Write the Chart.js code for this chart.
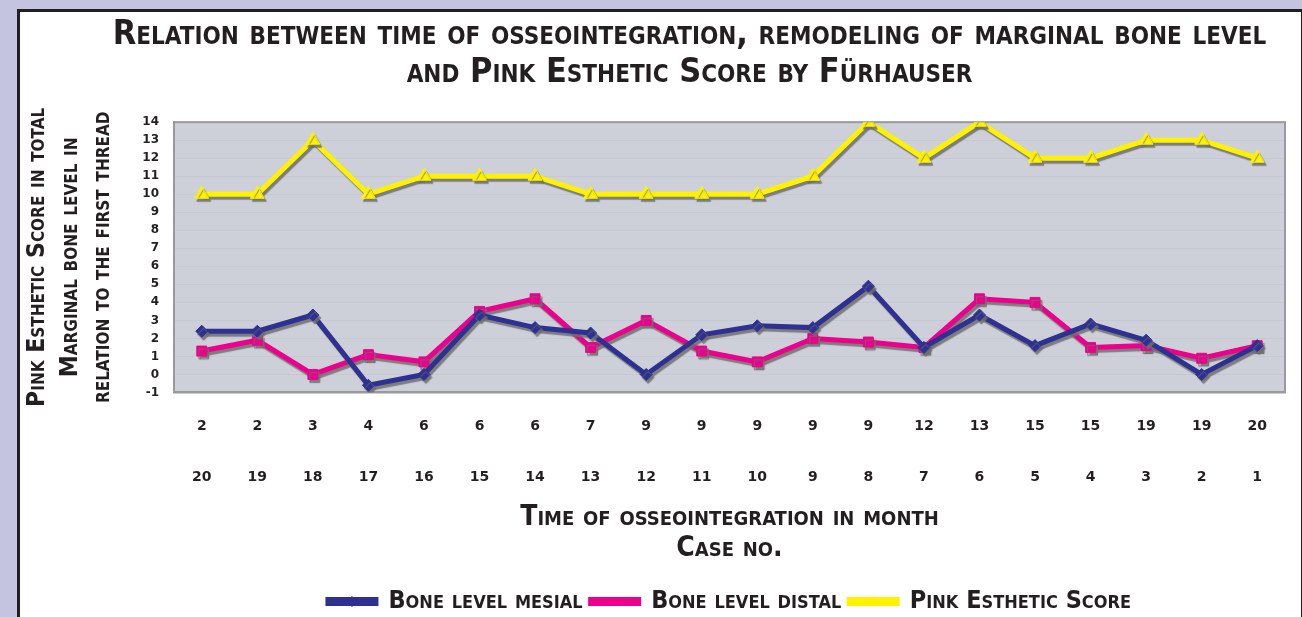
<!DOCTYPE html>
<html>
<head>
<meta charset="utf-8">
<script src="https://cdn.jsdelivr.net/npm/chart.js@4"></script>
<style>
  html, body { margin: 0; padding: 0; background: #c5c4e0; overflow: hidden; }
  #frame {
    position: absolute; left: 17px; top: 9px; width: 1281px; height: 620px;
    background: #fff; border: 3px solid #231f20; border-bottom: none;
  }
  #box { position: absolute; left: 0; top: 0; width: 1281px; height: 605px; }
</style>
</head>
<body>
<div id="frame"><div id="box"><canvas id="chart"></canvas></div></div>
<script>
var months = ["2", "2", "3", "4", "6", "6", "6", "7", "9", "9", "9", "9", "9", "12", "13", "15", "15", "19", "19", "20"];
var cases = ["20", "19", "18", "17", "16", "15", "14", "13", "12", "11", "10", "9", "8", "7", "6", "5", "4", "3", "2", "1"];
var mesial = [2.4, 2.4, 3.3, -0.6, 0, 3.3, 2.6, 2.3, 0, 2.2, 2.7, 2.6, 4.9, 1.5, 3.3, 1.6, 2.8, 1.9, 0, 1.6];
var distal = [1.3, 1.9, 0, 1.1, 0.7, 3.5, 4.2, 1.5, 3.0, 1.3, 0.7, 2.0, 1.8, 1.5, 4.2, 4.0, 1.5, 1.6, 0.9, 1.6];
var pes = [10, 10, 13, 10, 11, 11, 11, 10, 10, 10, 10, 11, 14, 12, 14, 12, 12, 13, 13, 12];

var ink = "#231f20";
var capsFont = "'Liberation Sans Narrow', 'DejaVu Sans Condensed', sans-serif";
var tickFont = "'DejaVu Sans', sans-serif";
// chart.js only checks font.style, so the small-caps goes in with the weight
var capsWeight = "small-caps bold";

var labels = months.map(function(m, i) {
    return [m, cases[i]];
});

// plot frame + gray drop shadow under the lines, like the original
var shadowPlugin = {
    id: "shadow",
    beforeDatasetsDraw: function(chart) {
        var ctx = chart.ctx;
        var a = chart.chartArea;
        ctx.save();
        ctx.strokeStyle = "#9a9a9a";
        ctx.lineWidth = 2;
        ctx.strokeRect(a.left, a.top, a.right - a.left, a.bottom - a.top);
        ctx.restore();
        ctx.save();
        ctx.shadowColor = "rgba(110,110,110,0.85)";
        ctx.shadowOffsetX = 2;
        ctx.shadowOffsetY = 3;
        ctx.shadowBlur = 1;
    },
    afterDatasetsDraw: function(chart) {
        chart.ctx.restore();
    }
};

// plot background, and the title sits a bit right of the frame centre
var bgPlugin = {
    id: "plotBg",
    afterLayout: function(chart) {
        chart.titleBlock.left += 36;
        chart.titleBlock.right += 36;
    },
    beforeDraw: function(chart) {
        var a = chart.chartArea;
        var ctx = chart.ctx;
        ctx.save();
        ctx.fillStyle = "#cdd0d9";
        ctx.fillRect(a.left, a.top, a.right - a.left, a.bottom - a.top);
        ctx.restore();
    }
};

// marker in the middle of each legend line
var legendMarkers = {
    id: "legendMarkers",
    afterDraw: function(chart) {
        var legend = chart.legend;
        var ctx = chart.ctx;
        legend.legendItems.forEach(function(item, i) {
            var box = legend.legendHitBoxes[i];
            var ds = chart.data.datasets[item.datasetIndex];
            var cx = box.left + legend.options.labels.boxWidth / 2;
            var cy = box.top + box.height / 2;
            ctx.save();
            ctx.fillStyle = ds.borderColor;
            ctx.strokeStyle = ds.borderColor;
            ctx.lineWidth = 1;
            Chart.helpers.drawPoint(ctx, {
                pointStyle: ds.pointStyle,
                radius: 5,
                borderWidth: 1
            }, cx, cy);
            ctx.restore();
        });
    }
};

new Chart(document.getElementById("chart"), {
    type: "line",
    data: {
        labels: labels,
        datasets: [
            {
                label: "Bone level mesial",
                data: mesial,
                borderColor: "#2e3192",
                backgroundColor: "#2e3192",
                borderWidth: 5,
                pointStyle: "rectRot",
                pointRadius: 6,
                pointBorderWidth: 1,
                tension: 0
            },
            {
                label: "Bone level distal",
                data: distal,
                borderColor: "#ec008c",
                backgroundColor: "#ec008c",
                borderWidth: 5,
                pointStyle: "rect",
                pointRadius: 7,
                pointBorderWidth: 1,
                tension: 0
            },
            {
                label: "Pink Esthetic Score",
                data: pes,
                borderColor: "#fff200",
                backgroundColor: "#fff200",
                borderWidth: 5,
                pointStyle: "triangle",
                pointRadius: 8,
                pointBorderWidth: 1,
                tension: 0
            }
        ]
    },
    options: {
        responsive: true,
        maintainAspectRatio: false,
        animation: false,
        layout: {
            padding: { left: 2, right: 16, top: 4, bottom: -7 }
        },
        plugins: {
            title: {
                display: true,
                text: [
                    "Relation between time of osseointegration, remodeling of marginal bone level",
                    "and Pink Esthetic Score by Fürhauser"
                ],
                color: ink,
                font: { family: capsFont, size: 34, weight: capsWeight, lineHeight: 1.12 },
                padding: { top: 0, bottom: 30 }
            },
            legend: {
                position: "bottom",
                fullSize: false,
                labels: {
                    color: ink,
                    boxWidth: 48,
                    boxHeight: 4,
                    padding: 8,
                    font: { family: capsFont, size: 25, weight: capsWeight }
                }
            },
            tooltip: { enabled: false }
        },
        scales: {
            x: {
                offset: true,
                border: { display: true, color: "#9a9a9a", width: 2 },
                grid: {
                    display: true,
                    drawOnChartArea: false,
                    drawTicks: false,
                    offset: true,
                    color: "#f1f1f1"
                },
                ticks: {
                    color: ink,
                    maxRotation: 0,
                    autoSkip: false,
                    padding: 8,
                    font: { family: tickFont, size: 14, weight: "bold", lineHeight: 3.64 }
                },
                title: {
                    display: true,
                    text: ["Time of osseointegration in month", "Case no."],
                    color: ink,
                    font: { family: capsFont, size: 28, weight: capsWeight, lineHeight: 1.1 },
                    padding: { top: -8, bottom: 17 }
                }
            },
            y: {
                min: -1,
                max: 14,
                border: { display: true, color: "#9a9a9a", width: 2 },
                grid: { color: "#c6c9d3", drawTicks: false },
                ticks: {
                    stepSize: 1,
                    color: ink,
                    padding: 15,
                    font: { family: tickFont, size: 12, weight: "bold" }
                },
                title: {
                    display: true,
                    text: ["Pink Esthetic Score in total", "Marginal bone level in", "relation to the first thread"],
                    color: ink,
                    font: { family: capsFont, size: 24.5, weight: capsWeight, lineHeight: 1.31 },
                    padding: { top: 0, bottom: 9 }
                }
            }
        }
    },
    plugins: [bgPlugin, shadowPlugin, legendMarkers]
});
</script>
</body>
</html>
